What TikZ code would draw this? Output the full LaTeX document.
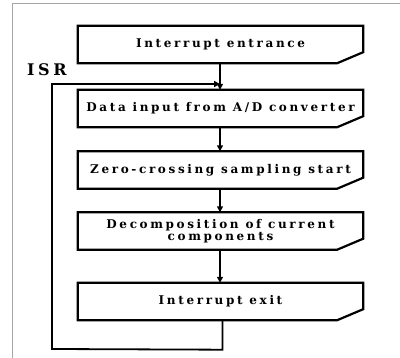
\documentclass[tikz,border=0pt]{standalone}
\usepackage{fontspec}
\setmainfont{Liberation Serif}
\newfontfamily\boxfont[LetterSpace=22]{DejaVu Serif}
\usetikzlibrary{arrows.meta}
\tikzset{
  stepbox/.style={minimum width=285pt, minimum height=37pt, inner sep=0pt,
    font=\boxfont\bfseries\fontsize{12}{12}\selectfont, align=center},
  outline/.style={line width=2.2pt, line join=miter},
  flow/.style={line width=1.8pt, -{Triangle[length=6pt,width=6pt]}},
  loopline/.style={line width=1.8pt},
}
\newcommand{\chamfer}[1]{%
  \draw[outline] (#1.north west) -- (#1.north east) -- ([yshift=11pt]#1.south east)
    -- ([xshift=-26pt]#1.south east) -- (#1.south west) -- cycle;}
\begin{document}
\begin{tikzpicture}[x=1pt,y=-1pt]
\useasboundingbox (0,0) rectangle (400,358);
\draw[gray!70, line width=0.8pt] (12,358) -- (12,3) -- (400,3);
\node[stepbox] (b1) at (220.5,44.5) {Interrupt entrance};
\node[stepbox] (b2) at (220.5,108.5) {Data input from A/D converter};
\node[stepbox] (b3) at (220.5,170) {Zero-crossing sampling start};
\node[stepbox] (b4) at (220.5,231) {Decomposition of current\\components};
\node[stepbox] (b5) at (220.5,301.5) {Interrupt exit};
\chamfer{b1}\chamfer{b2}\chamfer{b3}\chamfer{b4}\chamfer{b5}
\node[font=\boxfont\bfseries\fontsize{16}{16}\selectfont, anchor=west, inner sep=0pt] (isr) at (27,70) {ISR};
\coordinate (j) at (220,84);
\draw[flow] (b1.south -| j) -- (b2.north -| j);
\draw[flow] (b2.south -| j) -- (b3.north -| j);
\draw[flow] (b3.south -| j) -- (b4.north -| j);
\draw[flow] (b4.south -| j) -- (b5.north -| j);
\coordinate (lb) at (52,349);
\draw[loopline, -{Triangle[length=6pt,width=6pt]}] ([xshift=2pt]b5.south) -- ++(0,29.5) -- (lb) -- (lb |- j) -- (j);
\end{tikzpicture}
\end{document}
